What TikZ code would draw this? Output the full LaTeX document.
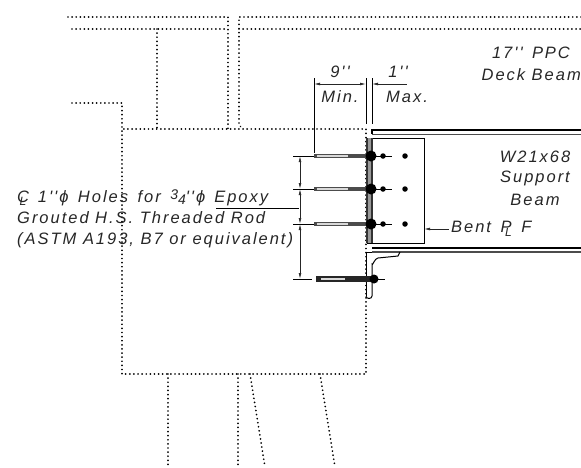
\documentclass[tikz,border=0pt]{standalone}
\usepackage{fontspec}
\newfontfamily\drawfont{Liberation Sans}[LetterSpace=12]
\usetikzlibrary{arrows.meta}
\newcommand{\clsym}{\rlap{C}\kern2.5pt\raisebox{-3pt}{\fontsize{12}{12}\selectfont L}\kern2pt}
\newcommand{\plsym}{\rlap{P}\kern4.5pt\raisebox{-4pt}{\fontsize{12}{12}\selectfont L}}
\tikzset{
  hid/.style={line width=1.9pt,line cap=round,dash pattern=on 0.01pt off 4.1pt,black},
  thin line/.style={line width=0.8pt,black},
  heavy/.style={line width=1.5pt,black},
  dimline/.style={line width=0.7pt,black!85,{Latex[length=6pt,width=2.8pt]}-{Latex[length=6pt,width=2.8pt]}},
  oneway/.style={line width=0.7pt,black!85,{Latex[length=6pt,width=2.8pt]}-},
  label/.style={font=\drawfont\itshape\fontsize{16.5}{18}\selectfont,text=black!85,inner sep=0pt},
  rod/.style={line width=4.6pt,black!70},
  rodcore/.style={line width=1.4pt,white!85!black},
  nutdot/.style={circle,fill=black,inner sep=0pt,minimum size=11pt},
  smalldot/.style={circle,fill=black,inner sep=0pt,minimum size=5.5pt}
}
\begin{document}
\begin{tikzpicture}[x=1pt,y=-1pt]
\useasboundingbox (0,0) rectangle (581,467);
% hidden outlines
\draw[hid] (68,17) -- (228,17) -- (228,129);
\draw[hid] (72,29) -- (228,29);
\draw[hid] (581,17) -- (239,17) -- (239,125) -- (243,129);
\draw[hid] (239,29) -- (581,29);
\draw[hid] (157,29) -- (157,129);
\draw[hid] (72,103) -- (122,103) -- (122,374) -- (366,374) -- (366,129) -- (122,129);
\draw[hid] (168,374) -- (168,467);
\draw[hid] (238,374) -- (238,467);
\draw[hid] (250,374) -- (265,467);
\draw[hid] (320,374) -- (335,467);
% beam flanges
\draw[heavy] (581,130) -- (372,130) -- (372,134);
\draw[line width=1pt,black!70] (372,134) -- (581,134);
\draw[heavy] (372,248) -- (581,248);
\draw[line width=1.4pt,black!70] (372,252) -- (581,252);
% bent plate
\draw[line width=1pt] (367,138) -- (424,138) -- (424,243) -- (367,243);
\draw[line width=1.2pt,black!80] (367,138) -- (367,243);
\draw[line width=1.2pt,black!80] (372,138) -- (372,243);
\fill[black!40] (368,138) rectangle (371,243);
% clip angle
\draw[line width=1pt] (400,252) -- (398,256) -- (378,258) to[out=180,in=-90] (372,264) -- (372,296);
\draw[line width=1pt] (372,252) -- (366,252) -- (366,296);
\draw[line width=1pt] (366,296) to[out=-90,in=-90,looseness=1.4] (372,296);
% rods
\foreach \ry/\rn in {156/a,189/b,224/c}{
  \draw[rod] (314,\ry) -- (370,\ry);
  \draw[rodcore] (317,\ry) -- (348,\ry);
  \draw[line width=0.5pt,black] (293,\ry) -- (314,\ry);
  \draw[line width=0.5pt,black] (375,\ry) -- (392,\ry);
  \node[nutdot] (nut\rn) at (371,\ry) {};
  \node[smalldot] (dotA\rn) at (383,\ry) {};
  \node[smalldot] (dotB\rn) at (405,\ry) {};
}
\draw[rod,line width=5.5pt,black!85] (316,279) -- (373,279);
\draw[rodcore] (321,279) -- (345,279);
\draw[line width=0.5pt] (293,279) -- (312,279);
\draw[line width=0.5pt] (375,279) -- (385,279);
\node[nutdot,minimum size=9pt] (nutd) at (374,279) {};
% vertical dimension
\coordinate (d1) at (300,156);
\coordinate (d2) at (300,189);
\coordinate (d3) at (300,224);
\coordinate (d4) at (300,279);
\draw[dimline] (d1) -- (d2);
\draw[dimline] (d2) -- (d3);
\draw[dimline] (d3) -- (d4);
% top dimensions
\coordinate (e1) at (314,84);
\coordinate (e2) at (366,84);
\coordinate (e3) at (372,84);
\coordinate (e4) at (407,84);
\draw[thin line] (314,78) -- (314,153);
\draw[thin line] (366,78) -- (366,124);
\draw[thin line] (372,78) -- (372,124);
\draw[dimline] (e1) -- (e2);
\draw[oneway] (e3) -- (e4);
% leader of hole note
\coordinate (l1) at (216,208);
\coordinate (l2) at (299,208);
\draw[line width=0.8pt] (l1) -- (l2);
% bent plate leader
\coordinate (b1) at (424,229);
\coordinate (b2) at (449,229);
\draw[oneway] (b1) -- (b2);
% labels
\node[label] (n9) at (340,72) {9''};
\node[label] (nmin) at (340,97) {Min.};
\node[label] (n1) at (398,72) {1''};
\node[label] (nmax) at (407,97) {Max.};
\node[label] (ppc) at (531,53) {17''\, PPC};
\node[label,anchor=east] (deck) at (581,75) {Deck Beam};
\node[label] (w21) at (535,157) {W21x68};
\node[label] (supp) at (535,178) {Support};
\node[label] (bm) at (535,200) {Beam};
\node[label,anchor=west] (bent) at (451,229) {Bent\kern3pt\ \plsym\kern3pt\ F};
\node[label,anchor=base west] (h1) at (17,202) {\spaceskip=9.5pt\clsym\ 1''ϕ Holes for \raisebox{3pt}{\fontsize{14}{14}\selectfont 3}\raisebox{-2pt}{\fontsize{14}{14}\selectfont 4}''ϕ\kern9pt Epoxy};
\node[label,anchor=base west] (h2) at (17,223) {Grouted H.S. Threaded Rod};
\node[label,anchor=base west] (h3) at (17,244) {(ASTM A193, B7 or equivalent)};
\end{tikzpicture}
\end{document}
